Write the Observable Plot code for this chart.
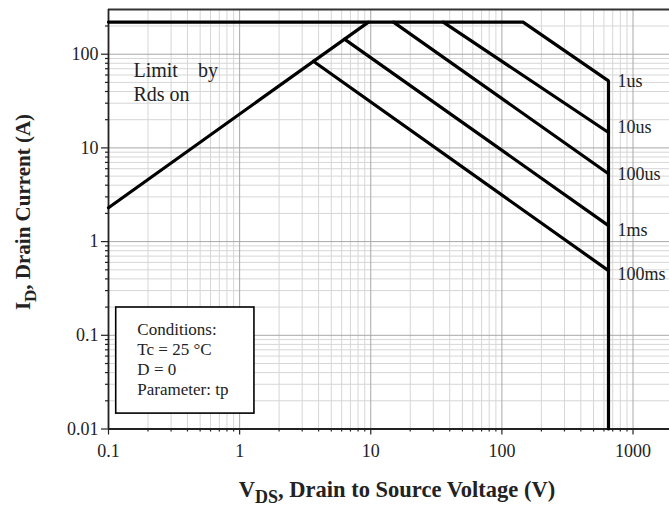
<!DOCTYPE html>
<html><head><meta charset="utf-8">
<script src="https://cdn.jsdelivr.net/npm/d3@7"></script>
<script src="https://cdn.jsdelivr.net/npm/@observablehq/plot@0.6"></script>
<style>body{margin:0;background:#fff}</style>
</head><body><div id="chart"></div>
<script>
// Tick values
const xDecades = [0.1, 1, 10, 100, 1000];
const yDecades = [0.01, 0.1, 1, 10, 100];
const minorSteps = [2, 3, 4, 5, 6, 7, 8, 9];

// SOA curves (V in volts, I in amps)
const curveNames = ["1us", "10us", "100us", "1ms", "100ms"];
const curveV = [[0.1, 145, 650, 650], [35.7, 650], [14.9, 650], [6.3, 650], [3.65, 650]];
const curveI = [[220, 220, 52, 0.01], [220, 14.6], [220, 5.3], [145, 1.48], [84, 0.49]];
const labelI = [51, 16.6, 5.27, 1.33, 0.445];
const labelV = 650;

// Rds(on) limit line
const rdsV = [0.1, 9.6];
const rdsI = [2.3, 220];

// Annotations
const limitText = "Limit\u00a0\u00a0\u00a0\u00a0by\nRds on";
const limitAt = [0.155, 51.5];
const condText = "Conditions:\nTc = 25 \u00b0C\nD = 0\nParameter: tp";
const condAt = [0.166, 0.0565];
const boxV = [0.1145, 1.297];
const boxI = [0.0146, 0.198];

const xMinor = xDecades.flatMap(d => minorSteps.map(m => d * m)).filter(v => v < 2000);
const yMinor = yDecades.flatMap(d => minorSteps.map(m => d * m)).filter(v => v < 300);

const rows = [];
curveNames.forEach((n, k) => curveV[k].forEach((v, j) => rows.push({name: n, v, i: curveI[k][j]})));
rdsV.forEach((v, j) => rows.push({name: "rds", v, i: rdsI[j]}));
const labels = curveNames.map((n, k) => ({name: n, v: labelV, i: labelI[k]}));

const serif = "'Liberation Serif', 'Times New Roman', serif";

const chart = Plot.plot({
  width: 669,
  height: 506,
  marginLeft: 108,
  marginTop: 9,
  marginRight: 0,
  marginBottom: 77.5,
  style: {fontFamily: serif, fontSize: "18px", color: "#222", background: "#fff", overflow: "visible"},
  x: {type: "log", domain: [0.1, 2000], range: [108, 672]},
  y: {type: "log", domain: [0.01, 300]},
  marks: [
    Plot.gridX(xMinor, {stroke: "#d6d6d6", strokeOpacity: 1, strokeWidth: 1}),
    Plot.gridY(yMinor, {stroke: "#d6d6d6", strokeOpacity: 1, strokeWidth: 1}),
    Plot.gridX(xDecades, {stroke: "#a8a8a8", strokeOpacity: 1, strokeWidth: 1}),
    Plot.gridY(yDecades, {stroke: "#a8a8a8", strokeOpacity: 1, strokeWidth: 1}),
    Plot.ruleY([300], {stroke: "#333", strokeWidth: 1.8}),
    Plot.axisX(xMinor, {tickSize: 3, tickFormat: () => "", stroke: "#222", strokeWidth: 1.2, label: null}),
    Plot.axisY(yMinor, {tickSize: 3, tickFormat: () => "", stroke: "#222", strokeWidth: 1.2, label: null}),
    Plot.axisX(xDecades, {tickSize: 6, tickPadding: 9, tickFormat: d => String(d), fontSize: 18, stroke: "#222", strokeWidth: 1.2, label: null}),
    Plot.axisY(yDecades, {tickSize: 7, tickPadding: 3, tickFormat: d => String(d), fontSize: 18, stroke: "#222", strokeWidth: 1.2, label: null}),
    Plot.ruleX([0.1], {stroke: "#222", strokeWidth: 1.8}),
    Plot.ruleY([0.01], {stroke: "#222", strokeWidth: 1.8}),
    Plot.line(rows, {x: "v", y: "i", z: "name", stroke: "#000", strokeWidth: 3.2, strokeLinejoin: "miter"}),
    Plot.text(labels, {x: "v", y: "i", text: "name", textAnchor: "start", dx: 9, fontSize: 18, fill: "#222"}),
    Plot.text([limitText], {x: () => limitAt[0], y: () => limitAt[1], text: d => d, textAnchor: "start", lineAnchor: "middle", lineHeight: 1.2, fontSize: 20, fill: "#222"}),
    Plot.rect([0], {x1: () => boxV[0], x2: () => boxV[1], y1: () => boxI[0], y2: () => boxI[1], fill: "#fff", stroke: "#000", strokeWidth: 1.6}),
    Plot.text([condText], {x: () => condAt[0], y: () => condAt[1], text: d => d, textAnchor: "start", lineAnchor: "middle", lineHeight: 1.18, fontSize: 17, fill: "#222"})
  ]
});

const svg = d3.select(chart);
const xt = svg.append("text")
  .attr("x", 397).attr("y", 497)
  .attr("text-anchor", "middle")
  .attr("font-family", serif).attr("font-weight", "bold").attr("font-size", 22.5).attr("fill", "#222");
xt.append("tspan").text("V");
xt.append("tspan").attr("dy", 6).attr("font-size", 18).text("DS");
xt.append("tspan").attr("dy", -6).text(", Drain to Source Voltage (V)");

const yt = svg.append("text")
  .attr("transform", "translate(30,212) rotate(-90)")
  .attr("text-anchor", "middle")
  .attr("font-family", serif).attr("font-weight", "bold").attr("font-size", 21).attr("fill", "#222");
yt.append("tspan").text("I");
yt.append("tspan").attr("dy", 6).attr("font-size", 17).text("D");
yt.append("tspan").attr("dy", -6).text(", Drain Current (A)");

document.getElementById("chart").appendChild(chart);
</script>
</body></html>
